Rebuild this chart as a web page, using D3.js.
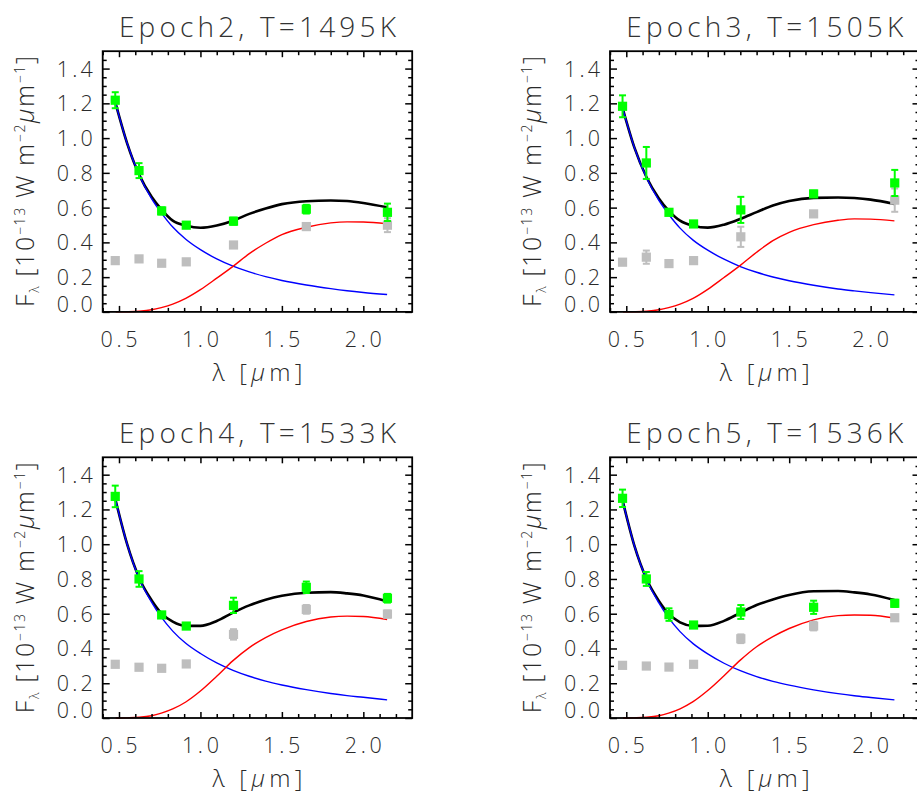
<!DOCTYPE html>
<html><head><meta charset="utf-8">
<script src="https://cdn.jsdelivr.net/npm/d3@7"></script>
<style>
body{margin:0;background:#fff}
svg{display:block}
text{font-family:"Open Sans","Liberation Sans",sans-serif;font-weight:300;fill:#2a2a2a}
</style>
</head><body>
<svg id="chart" width="917" height="791"></svg>
<script>
// ---------- data ----------
const epochs = ["Epoch2", "Epoch3", "Epoch4", "Epoch5"];
const temps = [1495, 1505, 1533, 1536];
const wavelengths = [0.477, 0.623, 0.762, 0.913, 1.203, 1.65, 2.148];

const obsFlux = [
  [1.218, 0.813, 0.581, 0.499, 0.522, 0.591, 0.573],
  [1.183, 0.857, 0.573, 0.506, 0.587, 0.679, 0.742],
  [1.275, 0.800, 0.593, 0.529, 0.648, 0.752, 0.689],
  [1.264, 0.800, 0.595, 0.535, 0.610, 0.637, 0.660]
];
const obsErr = [
  [0.046, 0.043, 0.020, 0.015, 0.020, 0.025, 0.050],
  [0.063, 0.092, 0.015, 0.012, 0.075, 0.018, 0.075],
  [0.062, 0.045, 0.015, 0.012, 0.044, 0.033, 0.025],
  [0.050, 0.040, 0.036, 0.015, 0.040, 0.038, 0.020]
];
const greyFlux = [
  [0.295, 0.305, 0.280, 0.288, 0.385, 0.491, 0.499],
  [0.286, 0.315, 0.278, 0.295, 0.432, 0.564, 0.643],
  [0.309, 0.292, 0.286, 0.311, 0.481, 0.625, 0.598],
  [0.303, 0.299, 0.293, 0.309, 0.456, 0.529, 0.577]
];
const greyErr = [
  [0.010, 0.010, 0.010, 0.010, 0.015, 0.020, 0.040],
  [0.010, 0.038, 0.010, 0.010, 0.058, 0.015, 0.067],
  [0.010, 0.010, 0.010, 0.010, 0.030, 0.025, 0.020],
  [0.010, 0.010, 0.010, 0.010, 0.025, 0.025, 0.015]
];

const curveLambda = [0.48, 0.55, 0.625, 0.7, 0.76, 0.83, 0.91, 1.0, 1.1, 1.2, 1.3, 1.4, 1.5, 1.65, 1.8, 1.9, 2.0, 2.146];
const blueModel = [
  [1.197, 0.970, 0.785, 0.652, 0.570, 0.488, 0.418, 0.358, 0.305, 0.263, 0.230, 0.203, 0.181, 0.155, 0.134, 0.122, 0.112, 0.100],
  [1.164, 0.945, 0.770, 0.642, 0.562, 0.482, 0.413, 0.355, 0.303, 0.261, 0.228, 0.201, 0.179, 0.153, 0.132, 0.121, 0.111, 0.098],
  [1.250, 1.000, 0.800, 0.667, 0.580, 0.500, 0.430, 0.371, 0.317, 0.274, 0.240, 0.212, 0.190, 0.163, 0.141, 0.129, 0.119, 0.104],
  [1.241, 0.990, 0.795, 0.662, 0.576, 0.497, 0.428, 0.369, 0.315, 0.272, 0.238, 0.211, 0.189, 0.162, 0.140, 0.128, 0.118, 0.104]
];
const redModel = [
  [0, 0.001, 0.004, 0.012, 0.025, 0.045, 0.078, 0.128, 0.194, 0.262, 0.335, 0.395, 0.445, 0.487, 0.512, 0.518, 0.517, 0.507],
  [0, 0.001, 0.004, 0.012, 0.025, 0.045, 0.078, 0.130, 0.198, 0.268, 0.343, 0.410, 0.458, 0.502, 0.527, 0.535, 0.534, 0.524],
  [0, 0.001, 0.004, 0.013, 0.028, 0.052, 0.092, 0.155, 0.240, 0.330, 0.405, 0.463, 0.507, 0.555, 0.581, 0.586, 0.584, 0.567],
  [0, 0.001, 0.004, 0.013, 0.028, 0.053, 0.094, 0.158, 0.243, 0.333, 0.410, 0.468, 0.515, 0.565, 0.589, 0.593, 0.591, 0.575]
];
const totalModel = [
  [1.197, 0.970, 0.787, 0.662, 0.590, 0.525, 0.497, 0.484, 0.497, 0.525, 0.564, 0.595, 0.620, 0.637, 0.641, 0.638, 0.627, 0.602],
  [1.164, 0.945, 0.773, 0.653, 0.583, 0.525, 0.496, 0.485, 0.502, 0.535, 0.574, 0.612, 0.638, 0.656, 0.658, 0.655, 0.646, 0.621],
  [1.250, 1.000, 0.803, 0.678, 0.603, 0.554, 0.530, 0.530, 0.558, 0.606, 0.648, 0.680, 0.703, 0.721, 0.724, 0.717, 0.705, 0.671],
  [1.241, 0.990, 0.798, 0.674, 0.600, 0.550, 0.530, 0.531, 0.559, 0.605, 0.650, 0.682, 0.708, 0.729, 0.731, 0.723, 0.711, 0.679]
];

const xTickValues = [0.5, 1.0, 1.5, 2.0];
const xTickLabels = ["0.5", "1.0", "1.5", "2.0"];
const yTickValues = [0.0, 0.2, 0.4, 0.6, 0.8, 1.0, 1.2, 1.4];
const yTickLabels = ["0.0", "0.2", "0.4", "0.6", "0.8", "1.0", "1.2", "1.4"];
const xMinorValues = [0.4, 0.6, 0.7, 0.8, 0.9, 1.1, 1.2, 1.3, 1.4, 1.6, 1.7, 1.8, 1.9, 2.1, 2.2];
const yMinorValues = [0.05, 0.1, 0.15, 0.25, 0.3, 0.35, 0.45, 0.5, 0.55, 0.65, 0.7, 0.75, 0.85, 0.9, 0.95, 1.05, 1.1, 1.15, 1.25, 1.3, 1.35, 1.45];

// ---------- layout ----------
const panelLeft = [102.7, 610.0];
const panelTop = [51.2, 457.3];
const W = 309.5, H = 260.7;
const GREEN = "#00ff00", GREY = "#bebebe";

const svg = d3.select("#chart");
svg.append("rect").attr("width", 917).attr("height", 791).attr("fill", "#fff");

epochs.forEach((ep, i) => {
  const left = panelLeft[i % 2], top = panelTop[Math.floor(i / 2)];
  const g = svg.append("g").attr("transform", `translate(${left},${top})`);
  const x = d3.scaleLinear().domain([0.4, 2.3]).range([0, W]);
  const y = d3.scaleLinear().domain([0, 1.5]).range([H, 0]);

  // curves
  const line = (vals) => d3.line().x((d, k) => x(curveLambda[k])).y(d => y(d)).curve(d3.curveMonotoneX)(vals);
  g.append("path").attr("d", line(totalModel[i])).attr("fill", "none").attr("stroke", "#000").attr("stroke-width", 2.6);
  g.append("path").attr("d", line(blueModel[i])).attr("fill", "none").attr("stroke", "#0000ff").attr("stroke-width", 1.4);
  g.append("path").attr("d", line(redModel[i])).attr("fill", "none").attr("stroke", "#ff0000").attr("stroke-width", 1.4);

  // data points with error bars
  const drawPts = (flux, err, col) => {
    const pg = g.append("g");
    flux.forEach((f, k) => {
      const cx = x(wavelengths[k]);
      const y1 = y(f + err[k]), y0 = y(f - err[k]);
      pg.append("line").attr("x1", cx).attr("x2", cx).attr("y1", y1).attr("y2", y0).attr("stroke", col).attr("stroke-width", 2);
      [y1, y0].forEach(yy => pg.append("line").attr("x1", cx - 3.5).attr("x2", cx + 3.5).attr("y1", yy).attr("y2", yy).attr("stroke", col).attr("stroke-width", 2));
      pg.append("rect").attr("x", cx - 4.6).attr("y", y(f) - 4.6).attr("width", 9.2).attr("height", 9.2).attr("fill", col);
    });
  };
  drawPts(greyFlux[i], greyErr[i], GREY);
  drawPts(obsFlux[i], obsErr[i], GREEN);

  // ticks via d3 axes (inward)
  const tickStyle = s => s.call(a => a.select(".domain").remove()).selectAll("line").attr("stroke", "#000").attr("stroke-width", 1.5);
  g.append("g").attr("transform", `translate(0,${H})`).call(d3.axisBottom(x).tickValues(xTickValues).tickSize(-6).tickFormat("")).call(tickStyle);
  g.append("g").attr("transform", `translate(0,${H})`).call(d3.axisBottom(x).tickValues(xMinorValues).tickSize(-4).tickFormat("")).call(tickStyle);
  g.append("g").call(d3.axisTop(x).tickValues(xTickValues).tickSize(-6).tickFormat("")).call(tickStyle);
  g.append("g").call(d3.axisTop(x).tickValues(xMinorValues).tickSize(-4).tickFormat("")).call(tickStyle);
  g.append("g").call(d3.axisLeft(y).tickValues(yTickValues).tickSize(-7).tickFormat("")).call(tickStyle);
  g.append("g").call(d3.axisLeft(y).tickValues(yMinorValues).tickSize(-4).tickFormat("")).call(tickStyle);
  g.append("g").attr("transform", `translate(${W},0)`).call(d3.axisRight(y).tickValues(yTickValues).tickSize(-7).tickFormat("")).call(tickStyle);
  g.append("g").attr("transform", `translate(${W},0)`).call(d3.axisRight(y).tickValues(yMinorValues).tickSize(-4).tickFormat("")).call(tickStyle);

  // frame
  g.append("rect").attr("width", W).attr("height", H).attr("fill", "none").attr("stroke", "#000").attr("stroke-width", 1.8);

  // tick labels
  yTickValues.forEach((v, k) => {
    g.append("text").attr("x", -10).attr("y", v === 0 ? y(v) : y(v) + 8)
      .attr("text-anchor", "end").attr("font-size", 21.5)
      .attr("textLength", 36).attr("lengthAdjust", "spacing").text(yTickLabels[k]);
  });
  xTickValues.forEach((v, k) => {
    g.append("text").attr("x", x(v)).attr("y", H + 35.5)
      .attr("text-anchor", "middle").attr("font-size", 21.5)
      .attr("textLength", 37).attr("lengthAdjust", "spacing").text(xTickLabels[k]);
  });

  // title
  g.append("text").attr("x", W / 2).attr("y", -14.5).attr("text-anchor", "middle")
    .attr("font-size", 28).attr("textLength", 277).attr("lengthAdjust", "spacing")
    .style("fill", "#333")
    .text(`${ep}, T=${temps[i]}K`);

  // x axis title
  const xt = g.append("text").attr("x", W / 2).attr("y", H + 69).attr("text-anchor", "middle")
    .attr("font-size", 24).attr("textLength", 90).attr("lengthAdjust", "spacing");
  xt.append("tspan").text("λ [");
  xt.append("tspan").attr("font-style", "italic").text("μ");
  xt.append("tspan").text("m]");

  // y axis title
  const yt = g.append("text").attr("transform", `translate(-69,${H / 2}) rotate(-90)`)
    .attr("text-anchor", "middle").attr("font-size", 25)
    .attr("textLength", 251).attr("lengthAdjust", "spacing");
  yt.append("tspan").text("F");
  yt.append("tspan").attr("font-size", 13).attr("dy", 5).text("λ");
  yt.append("tspan").attr("dy", -5).text(" [10");
  yt.append("tspan").attr("font-size", 14).attr("dy", -9).text("−13");
  yt.append("tspan").attr("dy", 9).text(" W m");
  yt.append("tspan").attr("font-size", 14).attr("dy", -9).text("−2");
  yt.append("tspan").attr("dy", 9).attr("font-style", "italic").text("μ");
  yt.append("tspan").text("m");
  yt.append("tspan").attr("font-size", 14).attr("dy", -9).text("−1");
  yt.append("tspan").attr("dy", 9).text("]");
});
</script>
</body></html>
